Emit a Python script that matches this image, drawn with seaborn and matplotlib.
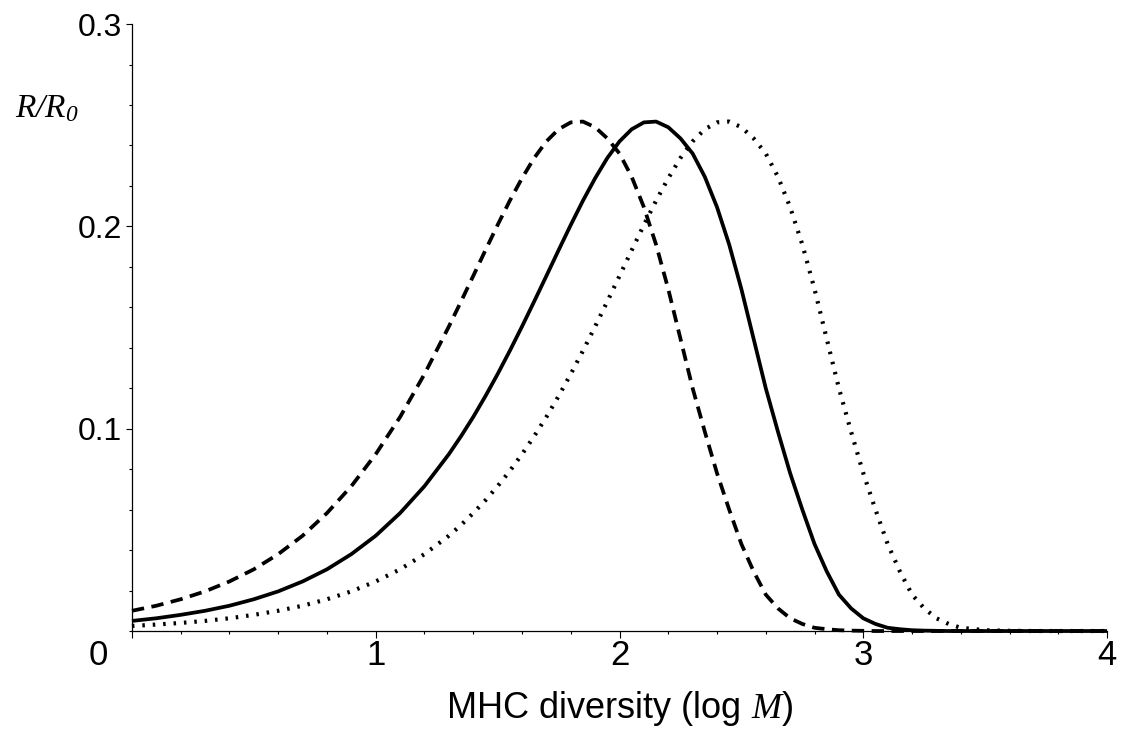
import numpy as np
import pandas as pd
import matplotlib
matplotlib.use("Agg")
import matplotlib.pyplot as plt
from matplotlib.ticker import MultipleLocator
import seaborn as sns

# ---------------------------------------------------------------------------
# Data, x = log M
# coarse 0.1 steps at the ends, 0.05 steps through the peaks
# ---------------------------------------------------------------------------
log_m = ([round(0.1 * k, 2) for k in range(13)]
         + [round(1.3 + 0.05 * k, 2) for k in range(43)]
         + [round(3.5 + 0.1 * k, 2) for k in range(6)])

r_dashed = [
    # 0.0 - 1.2
    0.0100, 0.0125, 0.0157, 0.0196, 0.0245, 0.0305, 0.0380, 0.0471, 0.0583, 0.0716,
    0.0874, 0.1058, 0.1270,
    # 1.3 - 3.4
    0.1505, 0.1629, 0.1755, 0.1882, 0.2007, 0.2127, 0.2238, 0.2338, 0.2420, 0.2480,
    0.2514, 0.2518, 0.2490, 0.2435, 0.2360, 0.2245, 0.2095, 0.1910, 0.1690, 0.1445,
    0.1200, 0.0985, 0.0780, 0.0600, 0.0430, 0.0295, 0.0180, 0.0112, 0.0063, 0.0035,
    0.0016, 0.0009, 0.0004, 0.0002, 0.0001, 0, 0, 0, 0, 0,
    0, 0, 0,
    # 3.5 - 4.0
    0, 0, 0, 0, 0, 0,
]
r_solid = [
    0.0050, 0.0063, 0.0080, 0.0100, 0.0125, 0.0157, 0.0196, 0.0245, 0.0305, 0.0380,
    0.0471, 0.0583, 0.0716,
    0.0874, 0.0963, 0.1058, 0.1161, 0.1270, 0.1385, 0.1505, 0.1629, 0.1755, 0.1882,
    0.2007, 0.2127, 0.2238, 0.2338, 0.2420, 0.2480, 0.2514, 0.2518, 0.2490, 0.2435,
    0.2360, 0.2245, 0.2095, 0.1910, 0.1690, 0.1445, 0.1200, 0.0985, 0.0780, 0.0600,
    0.0430, 0.0295, 0.0180, 0.0112, 0.0063, 0.0035, 0.0016, 0.0009, 0.0004, 0.0002,
    0.0001, 0, 0,
    0, 0, 0, 0, 0, 0,
]
r_dotted = [
    0.0025, 0.0032, 0.0040, 0.0050, 0.0063, 0.0080, 0.0100, 0.0125, 0.0157, 0.0196,
    0.0245, 0.0305, 0.0380,
    0.0471, 0.0524, 0.0583, 0.0646, 0.0716, 0.0791, 0.0874, 0.0963, 0.1058, 0.1161,
    0.1270, 0.1385, 0.1505, 0.1629, 0.1755, 0.1882, 0.2007, 0.2127, 0.2238, 0.2338,
    0.2420, 0.2480, 0.2514, 0.2518, 0.2490, 0.2435, 0.2360, 0.2245, 0.2095, 0.1910,
    0.1690, 0.1445, 0.1200, 0.0985, 0.0780, 0.0600, 0.0430, 0.0295, 0.0180, 0.0112,
    0.0063, 0.0035, 0.0016,
    0.0004, 0.0001, 0, 0, 0, 0,
]

x_ticks = [0, 1, 2, 3, 4]
x_tick_labels = ["", "1", "2", "3", "4"]   # "0" is placed by hand below
y_ticks = [0.1, 0.2, 0.3]
y_tick_labels = ["0.1", "0.2", "0.3"]

# ---------------------------------------------------------------------------
# Style
# ---------------------------------------------------------------------------
sns.set_style("ticks")
plt.rcParams["font.family"] = ["Liberation Sans", "DejaVu Sans"]
plt.rcParams["text.color"] = "black"
plt.rcParams["axes.labelcolor"] = "black"
plt.rcParams["xtick.color"] = "black"
plt.rcParams["ytick.color"] = "black"
plt.rcParams["mathtext.fontset"] = "custom"
plt.rcParams["mathtext.it"] = "Liberation Serif:italic"
plt.rcParams["mathtext.rm"] = "Liberation Serif:italic"

n = len(log_m)
df = pd.DataFrame({
    "log_m": log_m * 3,
    "r": r_dashed + r_solid + r_dotted,
    "curve": ["dashed"] * n + ["solid"] * n + ["dotted"] * n,
})

line_kw = {
    "dashed": dict(linewidth=2.7, linestyle=(0, (3.3, 2.0))),
    "solid":  dict(linewidth=2.7, linestyle="-"),
    "dotted": dict(linewidth=3.0, linestyle=(0, (0.6, 1.9))),
}

fig = plt.figure(figsize=(11.23, 7.29), dpi=100)
ax = fig.add_axes([0.1175, 0.1344, 0.8683, 0.8326])

for name, sub in df.groupby("curve", sort=False):
    sns.lineplot(data=sub, x="log_m", y="r", ax=ax, color="black",
                 clip_on=False, solid_capstyle="butt", **line_kw[name])

ax.set_xlim(0, 4)
ax.set_ylim(0, 0.3)
sns.despine(ax=ax)
for side in ("left", "bottom"):
    ax.spines[side].set_linewidth(0.9)
    ax.spines[side].set_color("black")

ax.set_xticks(x_ticks)
ax.set_xticklabels(x_tick_labels)
ax.xaxis.set_minor_locator(MultipleLocator(0.2))
ax.set_yticks(y_ticks)
ax.set_yticklabels(y_tick_labels)
ax.yaxis.set_minor_locator(MultipleLocator(0.02))

ax.tick_params(axis="x", which="major", direction="out", length=5, width=0.8,
               labelsize=25, pad=1)
ax.tick_params(axis="x", which="minor", direction="out", length=2.2, width=0.8)
ax.tick_params(axis="y", which="major", direction="out", length=4, width=0.8,
               labelsize=23, pad=3)
ax.tick_params(axis="y", which="minor", direction="out", length=2, width=0.8)

# origin label sits left of the axis corner
ax.annotate("0", xy=(0, 0), xycoords="data", xytext=(-24, -6),
            textcoords="offset points", ha="center", va="top", fontsize=25)

ax.set_xlabel("MHC diversity (log $M$)", fontsize=26, labelpad=12)
ax.set_ylabel("")
fig.text(0.013, 0.8395, r"$R/R_{0}$", fontsize=24, ha="left", va="baseline")

fig.savefig("out.png", dpi=100)
plt.close(fig)
